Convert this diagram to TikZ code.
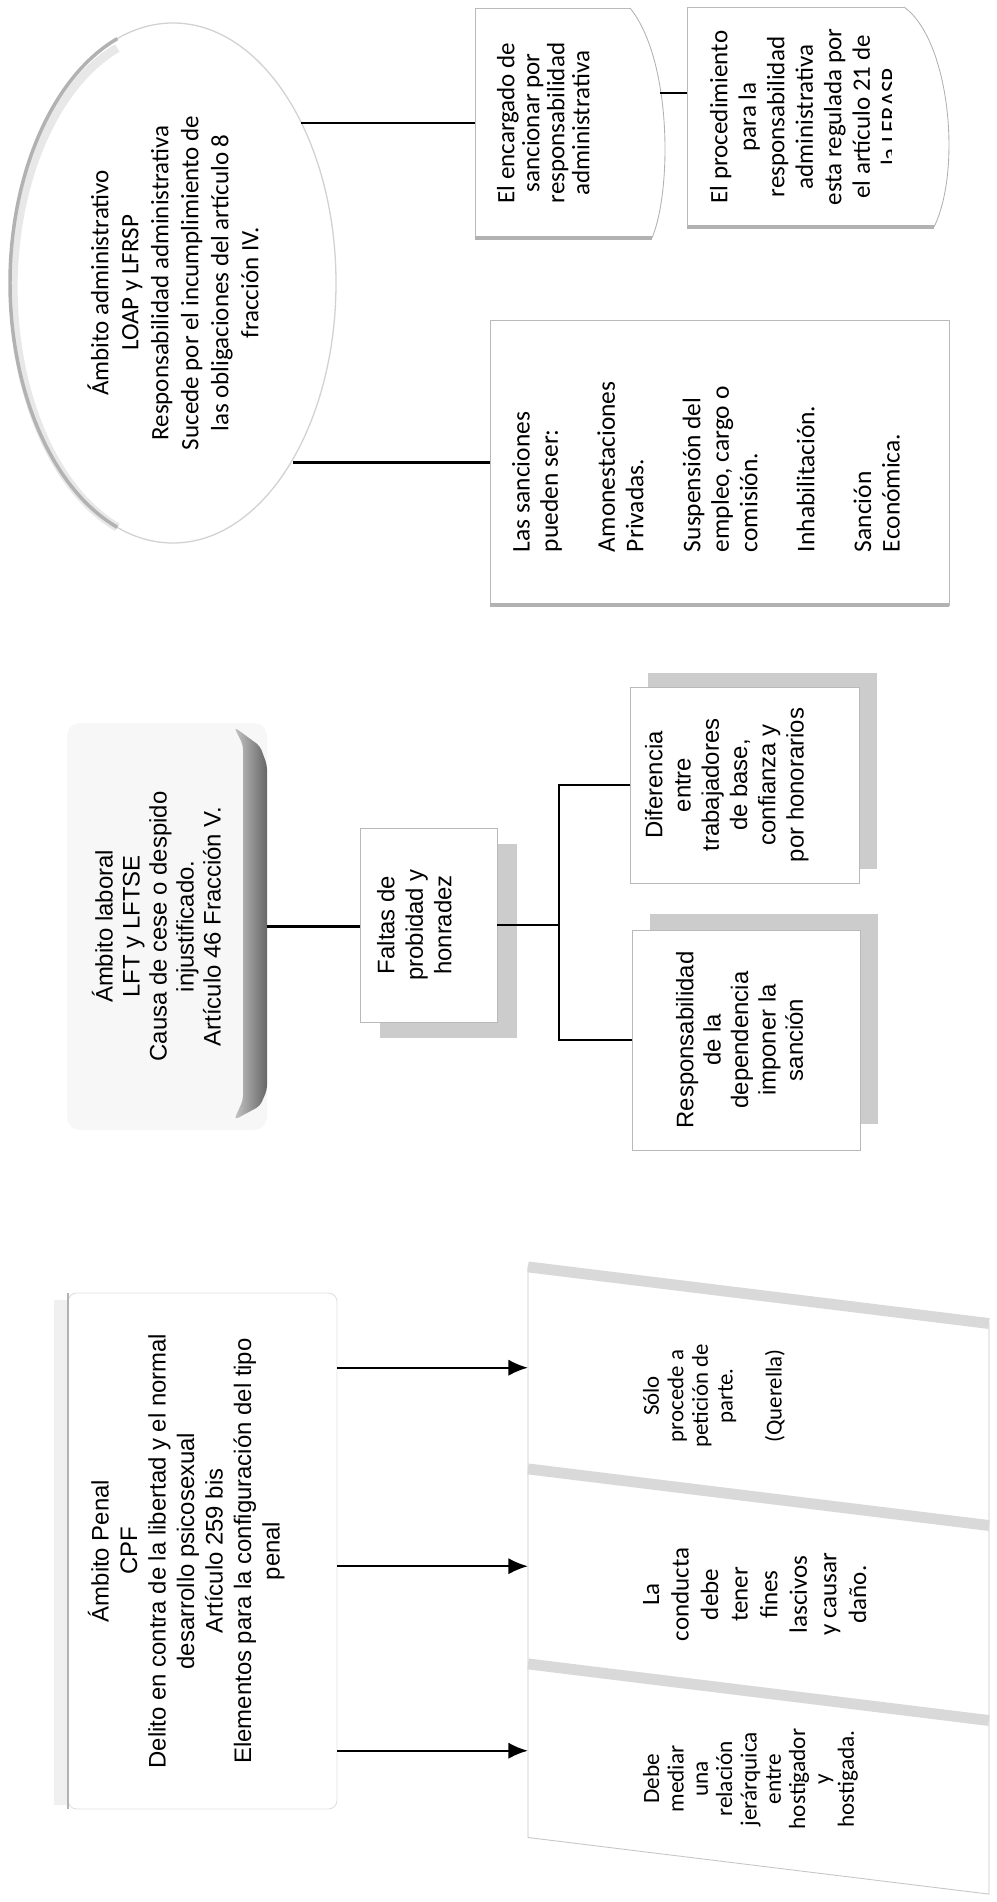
\documentclass[tikz,border=0pt]{standalone}
\usepackage{fontspec}
\setmainfont{Liberation Sans}
\newfontfamily\calibri{Carlito}
\usetikzlibrary{shapes.geometric,arrows.meta,calc,backgrounds}
\newlength\upx
\setlength\upx{0.46pt}
% caja de texto: ancho, alto, margen superior, texto
\newcommand{\txtcaja}[4]{\parbox[c][#2\upx][t]{#1\upx}{\centering\vspace*{#3\upx}#4\par}}
\tikzset{
  caja/.style={rotate=90, inner sep=0pt, outer sep=0pt, fill=white, draw=gray!55, line width=0.4pt},
  paral/.style={caja, trapezium, trapezium left angle=83, trapezium right angle=97, draw=gray!45},
  arial/.style={font=\fontsize{11}{#1}\selectfont},
  calib/.style 2 args={font=\calibri\fontsize{#1}{#2}\selectfont},
  linea/.style={line width=1.1pt},
  flecha/.style={line width=1.1pt, -{Latex[length=9pt,width=7.5pt]}},
  banda/.style={gray!30, line width=5pt},
  sombra/.style={fill=gray!40},
}
\begin{document}
\begin{tikzpicture}[x=0.46pt, y=-0.46pt]
\useasboundingbox (0,0) rectangle (997,1902);

% ambito administrativo
\node[ellipse, rotate=90, draw=gray!35, fill=white, line width=0.6pt, minimum width=520\upx, minimum height=326\upx, inner sep=0pt, align=center, calib={11.5}{13.8}] (adm) at (173,283)
  {Ámbito administrativo\\ LOAP y LFRSP\\ Responsabilidad administrativa\\ Sucede por el incumplimiento de\\ las obligaciones del artículo 8\\ fracción IV.};
\draw[gray!18, line width=4pt] (117.3,527.3) arc[start angle=110, end angle=250, x radius=158, y radius=255];
\draw[gray!60, line width=1.6pt] (117.3,527.3) arc[start angle=110, end angle=250, x radius=163, y radius=260];

\node[caja, draw=none, fill=none, calib={11.5}{11.5}] (enc) at (567.5,123)
  {\txtcaja{230}{185}{22}{El encargado de\\ sancionar por\\ responsabilidad\\ administrativa}};
\draw[gray!55] (630,8) -- (475,8) -- (475,238);
\draw[gray!60, line width=1.4pt] (475,238) -- (652,238);
\draw[gray!60] (652,238) .. controls (672,190) and (672,60) .. (630,8);

\begin{scope}
  \clip (680,0) rectangle (891,240);
  \node[caja, draw=none, fill=none, calib={11.5}{13.1}] (proc) at (818.5,117)
    {\txtcaja{220}{263}{23}{El procedimiento\\ para la\\ responsabilidad\\ administrativa\\ esta regulada por\\ el artículo 21 de\\ la LFRASP}};
\end{scope}
\draw[gray!55] (904,7) -- (687,7) -- (687,227);
\draw[gray!60, line width=1.4pt] (687,227) -- (934,227);
\draw[gray!60] (934,227) .. controls (962,170) and (950,40) .. (904,7);

\node[caja, calib={11.7}{13.1}] (san) at (719.5,462.5)
  {\parbox[c][459\upx][t]{285\upx}{\raggedright\leftskip=53\upx\vspace*{22\upx}Las sanciones\\ pueden ser:\\[13.1pt] Amonestaciones\\ Privadas.\\[13.1pt] Suspensión del\\ empleo, cargo o\\ comisión.\\[13.1pt] Inhabilitación.\\[13.1pt] Sanción\\ Económica.\par}};
\draw[gray!60, line width=1.4pt] (san.north west) -- (san.south west);

\coordinate (eje) at (0,93);
\draw[linea] (enc.north) -- (enc.north -| adm.-38.7);
\draw[linea] (san.north) -- (san.north -| adm.-146.6);
\draw[linea] (enc.south |- eje) -- (proc.north |- eje);

% ambito laboral
\node[caja, draw=none, fill=gray!6, rounded corners=6pt, arial={12.4}] (lab) at (167,926.5)
  {\txtcaja{407}{200}{25}{Ámbito laboral\\ LFT y LFTSE\\ Causa de cese o despido\\ injustificado.\\ Artículo 46 Fracción V.}};
\shade[left color=gray!45, right color=gray!80!black, rounded corners=2pt] (234,727) -- (260,746) -- (267,765) -- (267,1090) -- (260,1106) -- (234,1120) -- (243,1100) -- (243,745) -- cycle;

\node[caja, arial={13.1}] (fal) at (428.5,925) {\txtcaja{194}{137}{17}{Faltas de\\ probidad y\\ honradez}};
\node[caja, arial={13}] (dif) at (744.5,785) {\txtcaja{196}{229}{15}{Diferencia\\ entre\\ trabajadores\\ de base,\\ confianza y\\ por honorarios}};
\node[caja, arial={12.6}] (res) at (746,1040) {\txtcaja{220}{228}{44}{Responsabilidad\\ de la\\ dependencia\\ imponer la\\ sanción}};

\draw[linea] (lab.south) -- (lab.south -| fal.north);
\draw[linea] (fal.south) -- ++(62,0) coordinate (bus);
\draw[linea] (dif.north) -| (bus) |- (res.north);

% ambito penal
\node[caja, draw=gray!25, rounded corners=4pt, arial={13.1}] (pen) at (202.5,1551)
  {\txtcaja{516}{269}{20}{Ámbito Penal\\ CPF\\ Delito en contra de la libertad y el normal\\ desarrollo psicosexual\\ Artículo 259 bis\\ Elementos para la configuración del tipo\\ penal}};
\draw[gray!60, line width=1.2pt] (pen.north east) -- (pen.north west);

\node[paral, calib={10.5}{11.3}] (s1) at (758.5,1396) {\txtcaja{145}{461}{115}{Sólo\\ procede a\\ petición de\\ parte.\\[11.3pt] (Querella)}};
\node[paral, calib={11.5}{13.6}] (s2) at (758.5,1594.5) {\txtcaja{138}{461}{115}{La\\ conducta\\ debe\\ tener\\ fines\\ lascivos\\ y causar\\ daño.}};
\node[paral, calib={10.7}{11.2}] (s3) at (758.5,1779) {\txtcaja{117}{461}{115}{Debe\\ mediar\\ una\\ relación\\ jerárquica\\ entre\\ hostigador\\ y\\ hostigada.}};
\foreach \s in {s1,s2,s3}
  \draw[banda] (\s.top right corner) -- (\s.bottom right corner);

\draw[flecha] (pen.south |- s1.top side) -- (s1.top side);
\draw[flecha] (pen.south |- s2.top side) -- (s2.top side);
\draw[flecha] (pen.south |- s3.top side) -- (s3.top side);

% sombras
\begin{scope}[on background layer]
  \fill[sombra] (380,844) rectangle (517,1038);
  \fill[sombra] (648,673) rectangle (877,869);
  \fill[sombra] (650,914) rectangle (878,1124);
  \fill[gray!12] (54,1300) rectangle (68,1805);
\end{scope}
\end{tikzpicture}
\end{document}
